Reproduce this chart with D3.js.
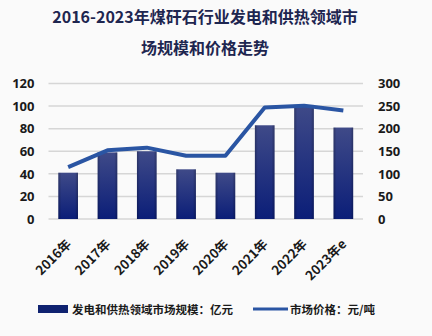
<!DOCTYPE html>
<html><head><meta charset="utf-8">
<script src="https://cdn.jsdelivr.net/npm/d3@7"></script>
<style>
html,body{margin:0;padding:0;background:#fafafa;}
svg{display:block;font-family:"Noto Sans CJK SC","Noto Sans",sans-serif;}
</style></head>
<body><svg id="c" width="432" height="336"></svg>
<script>
const categories = ["2016年","2017年","2018年","2019年","2020年","2021年","2022年","2023年e"];
const marketSize = [41, 59, 60, 44, 41, 83, 101, 81];
const marketPrice = [115, 152, 158, 140, 140, 247, 251, 240];
const leftTicks = [0, 20, 40, 60, 80, 100, 120];
const rightTicks = [0, 50, 100, 150, 200, 250, 300];
const titleLines = ["2016-2023年煤矸石行业发电和供热领域市", "场规模和价格走势"];
const legendLabels = ["发电和供热领域市场规模：亿元", "市场价格：元/吨"];

const svg = d3.select("#c");
const W = 432, H = 336;
svg.append("rect").attr("width", W).attr("height", H).attr("fill", "#fafafa");

const m = {left: 48.5, right: 363, top: 83.5, bottom: 219};
const x = d3.scaleBand().domain(categories).range([m.left, m.right]).paddingInner(0.5).paddingOuter(0.25);
const yL = d3.scaleLinear().domain([0, 120]).range([m.bottom, m.top]);
const yR = d3.scaleLinear().domain([0, 300]).range([m.bottom, m.top]);

const defs = svg.append("defs");
const g1 = defs.append("linearGradient").attr("id", "barGrad").attr("x1", 0).attr("x2", 0).attr("y1", 0).attr("y2", 1);
g1.append("stop").attr("offset", "0%").attr("stop-color", "#3f4a88");
g1.append("stop").attr("offset", "100%").attr("stop-color", "#0b1e78");
const g2 = defs.append("linearGradient").attr("id", "barEdge").attr("x1", 0).attr("x2", 1).attr("y1", 0).attr("y2", 0);
g2.append("stop").attr("offset", "0%").attr("stop-color", "#000").attr("stop-opacity", 0.25);
g2.append("stop").attr("offset", "15%").attr("stop-color", "#000").attr("stop-opacity", 0);
g2.append("stop").attr("offset", "85%").attr("stop-color", "#000").attr("stop-opacity", 0);
g2.append("stop").attr("offset", "100%").attr("stop-color", "#000").attr("stop-opacity", 0.25);

// title
svg.append("g").selectAll("text").data(titleLines).join("text")
  .attr("x", 205).attr("y", (d, i) => 23 + i * 31)
  .attr("text-anchor", "middle").attr("font-size", 16).attr("font-weight", 700)
  .attr("fill", "#1e2650").text(d => d);

// gridlines
svg.append("g").selectAll("line").data(leftTicks).join("line")
  .attr("x1", m.left).attr("x2", m.right)
  .attr("y1", d => yL(d)).attr("y2", d => yL(d))
  .attr("stroke", "#d6d6d6").attr("stroke-width", 1.5);

// left axis
const axL = d3.axisLeft(yL).tickValues(leftTicks).tickSize(0).tickPadding(0);
const gL = svg.append("g").attr("transform", `translate(${m.left - 14},0)`).call(axL);
gL.select(".domain").remove();
gL.selectAll("text").attr("font-size", 13).attr("font-weight", 700).attr("fill", "#1a1a1a")
  .attr("font-family", '"Open Sans","Noto Sans",sans-serif');

// right axis
const axR = d3.axisRight(yR).tickValues(rightTicks).tickSize(0).tickPadding(0);
const gR = svg.append("g").attr("transform", `translate(${m.right + 15},0)`).call(axR);
gR.select(".domain").remove();
gR.selectAll("text").attr("font-size", 13).attr("font-weight", 700).attr("fill", "#1a1a1a")
  .attr("font-family", '"Open Sans","Noto Sans",sans-serif');

// bars
const bars = svg.append("g");
bars.selectAll("rect.b").data(categories).join("rect").attr("class", "b")
  .attr("x", d => x(d)).attr("width", x.bandwidth())
  .attr("y", (d, i) => yL(marketSize[i])).attr("height", (d, i) => yL(0) - yL(marketSize[i]))
  .attr("fill", "url(#barGrad)");
bars.selectAll("rect.e").data(categories).join("rect").attr("class", "e")
  .attr("x", d => x(d)).attr("width", x.bandwidth())
  .attr("y", (d, i) => yL(marketSize[i])).attr("height", (d, i) => yL(0) - yL(marketSize[i]))
  .attr("fill", "url(#barEdge)");

// line
const line = d3.line().x((d, i) => x(categories[i]) + x.bandwidth() / 2).y(d => yR(d));
svg.append("path").datum(marketPrice).attr("d", line)
  .attr("fill", "none").attr("stroke", "#2a55a3").attr("stroke-width", 4)
  .attr("stroke-linejoin", "round").attr("stroke-linecap", "butt");

// x labels
svg.append("g").selectAll("text").data(categories).join("text")
  .attr("transform", d => `translate(${x(d) + x.bandwidth() / 2 + 4},${m.bottom + 26}) rotate(-45)`)
  .attr("text-anchor", "end").attr("font-size", 13).attr("font-weight", 700).attr("fill", "#1a1a1a")
  .text(d => d);

// legend
const lg = svg.append("g");
lg.append("rect").attr("x", 38).attr("y", 305).attr("width", 30).attr("height", 8).attr("fill", "#0f2270");
lg.append("text").attr("x", 72).attr("y", 313.5).attr("font-size", 11.5).attr("font-weight", 700)
  .attr("fill", "#1a1a1a").text(legendLabels[0]);
lg.append("line").attr("x1", 253).attr("x2", 288).attr("y1", 309).attr("y2", 309)
  .attr("stroke", "#2a55a3").attr("stroke-width", 3);
lg.append("text").attr("x", 290).attr("y", 313.5).attr("font-size", 11.5).attr("font-weight", 700)
  .attr("fill", "#1a1a1a").text(legendLabels[1]);
</script></body></html>
